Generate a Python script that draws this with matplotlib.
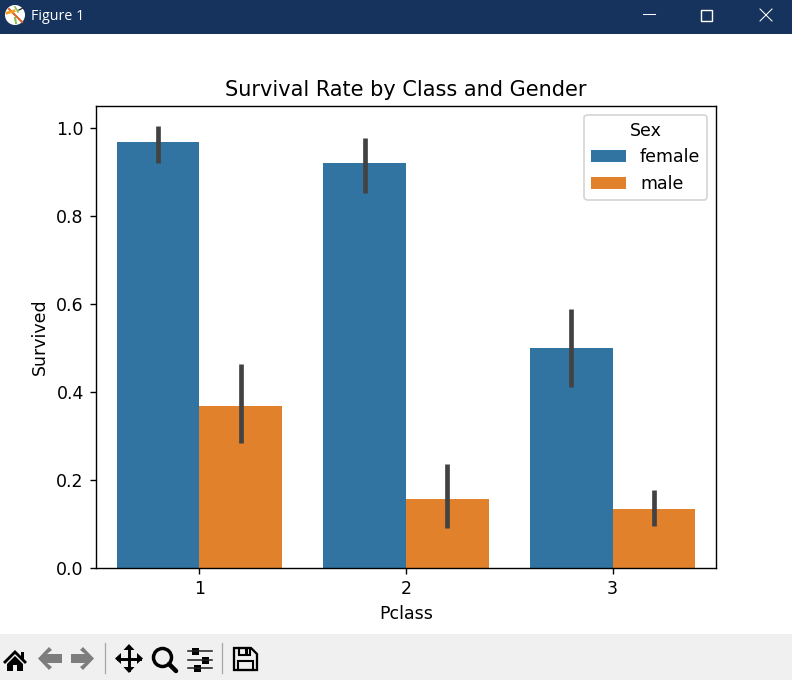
import numpy as np
import matplotlib
matplotlib.use('Agg')
import matplotlib.pyplot as plt
from matplotlib.patches import Polygon, Rectangle, Circle

# survival data
pclass = ['1', '2', '3']
female_rate = [0.969, 0.921, 0.500]
male_rate = [0.369, 0.157, 0.135]
female_low = [0.921, 0.853, 0.412]
female_high = [1.005, 0.978, 0.589]
male_low = [0.284, 0.091, 0.096]
male_high = [0.464, 0.237, 0.177]

W, H = 792, 680
DPI = 125
BAR_W = 0.4


def draw_chrome(fig):
    # window title bar and toolbar, in pixel coordinates
    ov = fig.add_axes([0, 0, 1, 1], zorder=5)
    ov.set_xlim(0, W)
    ov.set_ylim(H, 0)
    ov.axis('off')
    ov.patch.set_alpha(0)

    bar = '#16335e'
    ov.add_patch(Rectangle((0, 0), W, 34, color=bar, lw=0))
    ov.add_patch(Rectangle((0, 634), W, 46, color='#f0f0f0', lw=0))

    # app icon
    ov.add_patch(Circle((15, 15), 10, color='white', lw=0))
    ov.plot([9, 22], [9, 22], color='#d9622b', lw=1.2)
    ov.plot([7, 14], [13, 11], color='#f2a01e', lw=1.6)
    ov.plot([15, 16], [18, 23], color='#8cc152', lw=1.2)
    ov.plot([15, 18], [7, 12], color='#8cc152', lw=1.0)
    ov.plot([19, 23], [10, 8], color='#333333', lw=0.8)
    ov.text(31, 16.5, 'Figure 1', color='white', fontsize=8.2, family='Open Sans',
            va='center', ha='left')

    # window buttons
    ov.plot([643, 655], [14, 14], color='white', lw=0.6)
    ov.add_patch(Rectangle((701, 9.5), 11, 11, fill=False, ec='white', lw=0.8))
    ov.plot([760, 772], [9, 21], color='white', lw=0.6)
    ov.plot([760, 772], [21, 9], color='white', lw=0.6)

    # home
    ov.add_patch(Polygon([(3, 662), (15, 650), (21, 656), (21, 652), (24, 652),
                          (24, 659), (27, 662), (25, 664), (15, 654), (5, 664)], color='k', lw=0))
    ov.add_patch(Polygon([(7, 664), (15, 656), (23, 664), (23, 671), (17, 671), (17, 665),
                          (13, 665), (13, 671), (7, 671)], color='k', lw=0))

    # back / forward, dithered in the reference so a mid grey here
    ov.add_patch(Polygon([(38, 658.5), (49, 647), (52, 650), (47, 654), (62, 654),
                          (62, 663), (47, 663), (52, 667), (49, 670)],
                         color='#7d7d7d', lw=0))
    ov.add_patch(Polygon([(94, 658.5), (83, 647), (80, 650), (85, 654), (71, 654),
                          (71, 663), (85, 663), (80, 667), (83, 670)],
                         color='#7d7d7d', lw=0))

    # separators
    ov.plot([105, 105], [643, 673], color='#a5a5a5', lw=0.7)
    ov.plot([222, 222], [643, 673], color='#a5a5a5', lw=0.7)

    # pan
    ov.plot([118, 140], [658.5, 658.5], color='k', lw=1.7)
    ov.plot([129, 129], [647, 670], color='k', lw=1.7)
    for tri in ([(115, 658.5), (121, 653), (121, 664)], [(143, 658.5), (137, 653), (137, 664)],
                [(129, 644), (123.5, 650), (134.5, 650)], [(129, 673), (123.5, 667), (134.5, 667)]):
        ov.add_patch(Polygon(tri, color='k', lw=0))

    # zoom
    ov.add_patch(Circle((162.5, 657.5), 9, fill=False, ec='k', lw=2.0))
    ov.plot([169, 176], [664, 671], color='k', lw=2.6, solid_capstyle='round')

    # sliders
    for y, knob in zip([651, 660, 668], [195, 205, 197]):
        ov.plot([188, 212], [y, y], color='#222222', lw=0.9)
        ov.add_patch(Rectangle((knob - 3.5, y - 3.5), 7, 7, color='k', lw=0))

    # save
    ov.add_patch(Polygon([(234, 648), (251, 648), (257, 654), (257, 670), (234, 670)],
                         fill=False, ec='k', lw=1.3))
    ov.add_patch(Rectangle((239, 648), 11, 7, fill=False, ec='k', lw=1.2))
    ov.add_patch(Rectangle((245, 649), 3, 5, color='k', lw=0))
    ov.add_patch(Rectangle((238, 661), 15, 9, fill=False, ec='k', lw=1.2))


fig = plt.figure(figsize=(W / DPI, H / DPI), dpi=DPI)
ax = fig.add_axes([96 / W, 1 - 568 / H, 620 / W, 462 / H])

x = np.arange(len(pclass))
ax.bar(x - BAR_W / 2, female_rate, BAR_W, color='#3274a1', label='female')
ax.bar(x + BAR_W / 2, male_rate, BAR_W, color='#e1812c', label='male')
ax.vlines(x - BAR_W / 2, female_low, female_high, color='#424242', lw=2.7, zorder=3)
ax.vlines(x + BAR_W / 2, male_low, male_high, color='#424242', lw=2.7, zorder=3)

ax.set_xlim(-0.5, 2.5)
ax.set_ylim(0, 1.051)
ax.set_xticks(x)
ax.set_xticklabels(pclass)
ax.set_xlabel('Pclass')
ax.set_ylabel('Survived')
ax.set_title('Survival Rate by Class and Gender')
ax.legend(title='Sex', loc='upper right')

draw_chrome(fig)
fig.savefig('out.png', dpi=DPI)
